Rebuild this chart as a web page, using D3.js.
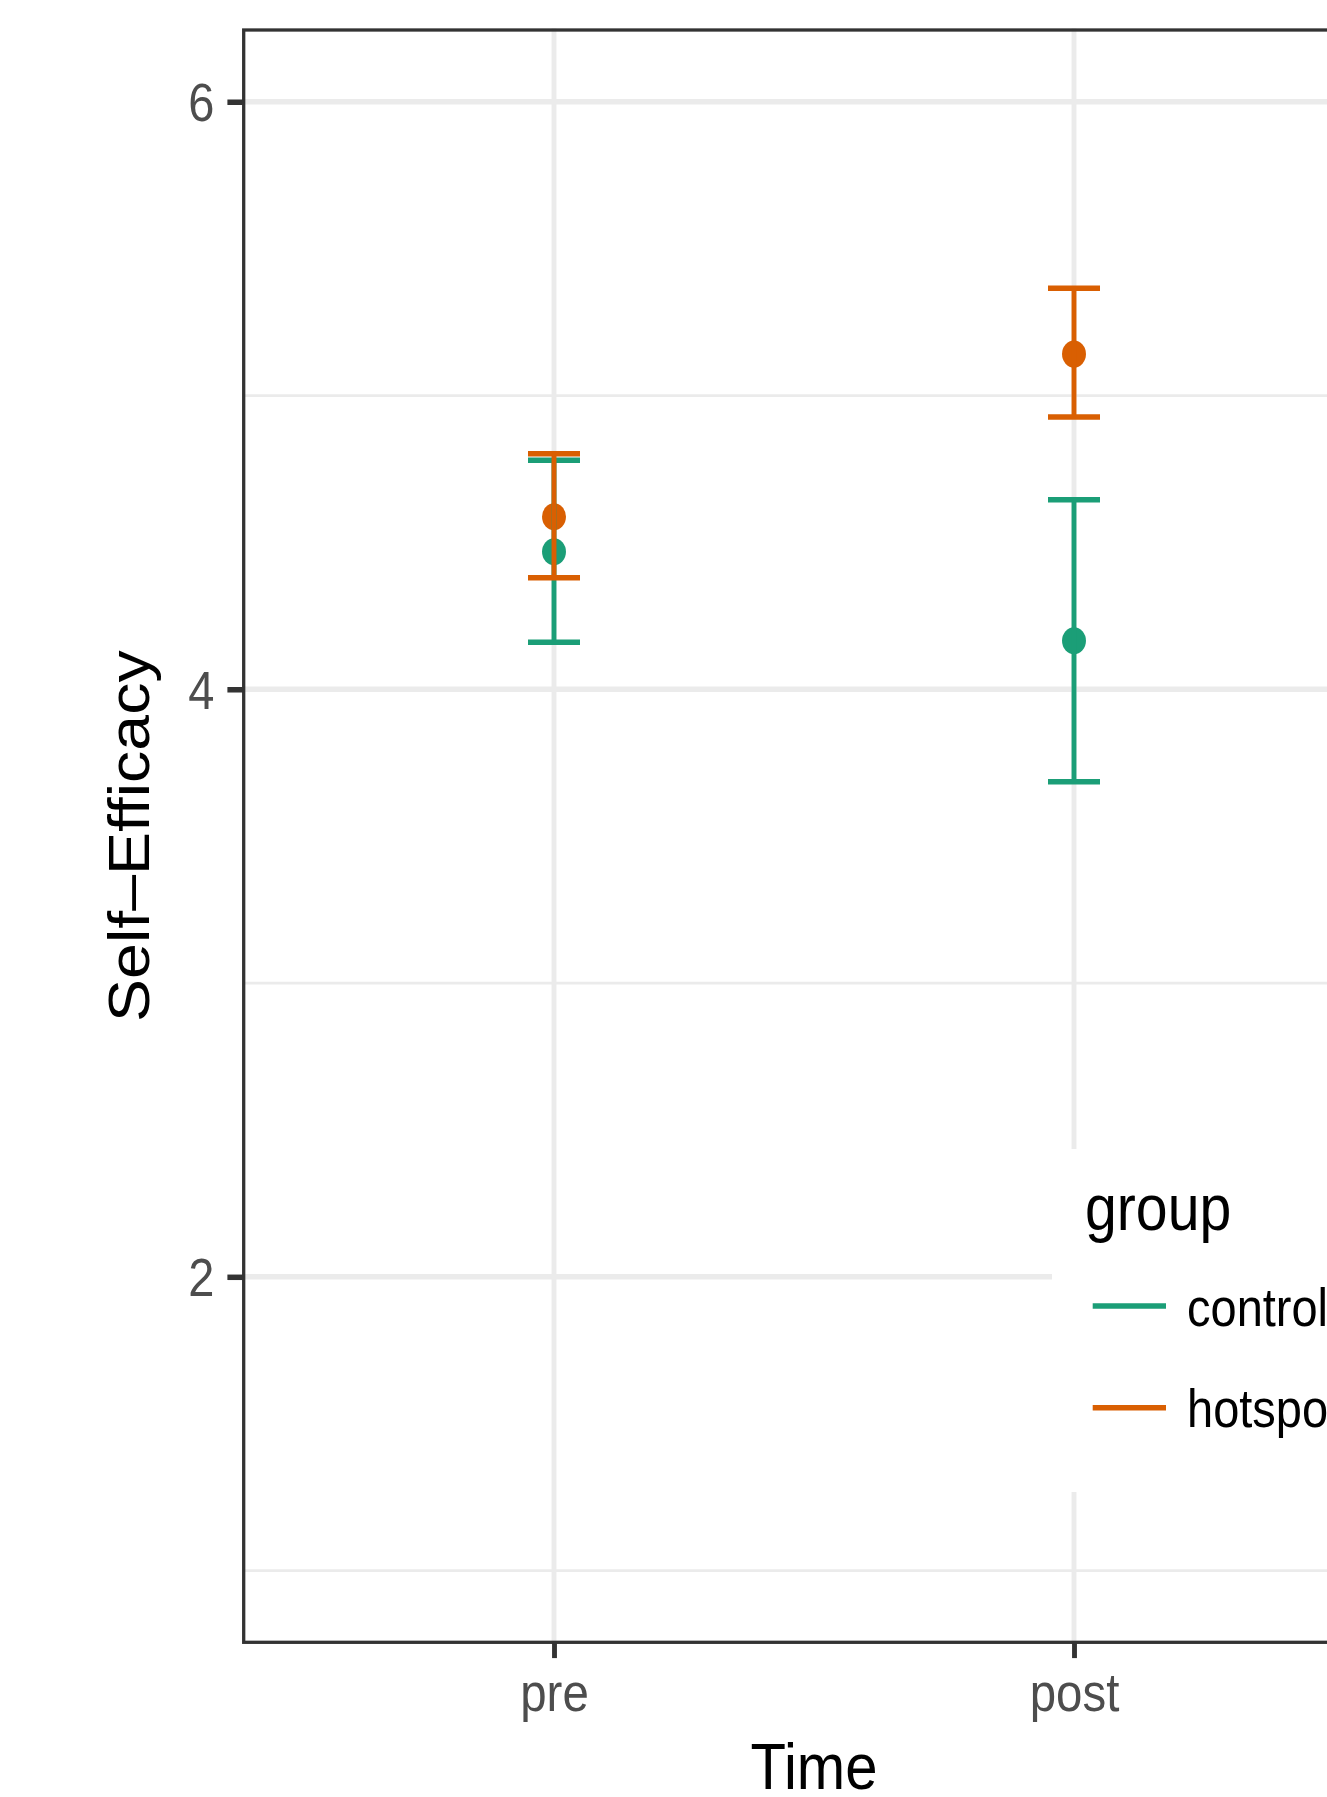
<!DOCTYPE html>
<html>
<head>
<meta charset="utf-8">
<script src="https://cdn.jsdelivr.net/npm/d3@7"></script>
<style>
  body { margin: 0; background: #fff; overflow: hidden; }
  text { font-family: "Liberation Sans", Arial, Helvetica, sans-serif; }
</style>
</head>
<body>
<div id="wrapper"></div>
<script>
// data
const times = ["pre", "post"];
const groups = ["control", "hotspot"];
const groupColors = ["#1B9E77", "#D95F02"];
const controlMean = [4.468, 4.165];
const controlLow = [4.16, 3.685];
const controlHigh = [4.78, 4.645];
const hotspotMean = [4.587, 5.141];
const hotspotLow = [4.38, 4.927];
const hotspotHigh = [4.802, 5.365];
const yMajorTicks = [2, 4, 6];
const yMinorTicks = [1, 3, 5];
const yLimits = [1, 6];

function drawChart() {
  // the source picture is squeezed sideways, so glyphs and dots get squeezed too
  const squeeze = 0.887;

  // step 1: rows for the marks
  const rows = [];
  groups.forEach((g, gi) => {
    const mean = gi === 0 ? controlMean : hotspotMean;
    const low = gi === 0 ? controlLow : hotspotLow;
    const high = gi === 0 ? controlHigh : hotspotHigh;
    times.forEach((t, ti) => {
      rows.push({ group: g, time: t, mean: mean[ti], low: low[ti], high: high[ti] });
    });
  });

  // step 2: dimensions
  let dimensions = {
    width: 1327,
    height: 1797,
    panel: { left: 242, top: 28.3, right: 1386, bottom: 1644 },
  };

  // step 3: canvas
  const wrapper = d3.select("#wrapper")
    .append("svg")
    .attr("width", dimensions.width)
    .attr("height", dimensions.height)
    .style("display", "block");
  wrapper.append("rect")
    .attr("width", dimensions.width)
    .attr("height", dimensions.height)
    .attr("fill", "#fff");

  // step 4: scales
  const pad = (yLimits[1] - yLimits[0]) * 0.05;
  const yScale = d3.scaleLinear()
    .domain([yLimits[0] - pad, yLimits[1] + pad])
    .range([dimensions.panel.bottom, dimensions.panel.top]);
  const xScale = d3.scalePoint()
    .domain(times)
    .range([dimensions.panel.left, dimensions.panel.right])
    .padding(0.6);
  const colorScale = d3.scaleOrdinal()
    .domain(groups)
    .range(groupColors);

  // grid
  const grid = wrapper.append("g");
  grid.selectAll(".minor")
    .data(yMinorTicks)
    .join("line")
    .attr("x1", dimensions.panel.left)
    .attr("x2", dimensions.panel.right)
    .attr("y1", d => yScale(d))
    .attr("y2", d => yScale(d))
    .attr("stroke", "#EBEBEB")
    .attr("stroke-width", 2.75);
  grid.selectAll(".major")
    .data(yMajorTicks)
    .join("line")
    .attr("x1", dimensions.panel.left)
    .attr("x2", dimensions.panel.right)
    .attr("y1", d => yScale(d))
    .attr("y2", d => yScale(d))
    .attr("stroke", "#EBEBEB")
    .attr("stroke-width", 5.5);
  grid.selectAll(".vmajor")
    .data(times)
    .join("line")
    .attr("x1", d => xScale(d))
    .attr("x2", d => xScale(d))
    .attr("y1", dimensions.panel.top)
    .attr("y2", dimensions.panel.bottom)
    .attr("stroke", "#EBEBEB")
    .attr("stroke-width", 5.5 * squeeze);

  // step 5: data marks, points first then error bars
  const marks = wrapper.append("g");
  marks.selectAll("ellipse")
    .data(rows)
    .join("ellipse")
    .attr("cx", d => xScale(d.time))
    .attr("cy", d => yScale(d.mean))
    .attr("rx", 13.5 * squeeze)
    .attr("ry", 13.5)
    .attr("fill", d => colorScale(d.group));

  const capHalf = xScale.step() * 0.05;
  const bars = marks.selectAll(".bar")
    .data(rows)
    .join("g")
    .attr("stroke", d => colorScale(d.group));
  bars.append("line")
    .attr("x1", d => xScale(d.time))
    .attr("x2", d => xScale(d.time))
    .attr("y1", d => yScale(d.low))
    .attr("y2", d => yScale(d.high))
    .attr("stroke-width", 5.5 * squeeze);
  bars.append("line")
    .attr("x1", d => xScale(d.time) - capHalf)
    .attr("x2", d => xScale(d.time) + capHalf)
    .attr("y1", d => yScale(d.high))
    .attr("y2", d => yScale(d.high))
    .attr("stroke-width", 5.5);
  bars.append("line")
    .attr("x1", d => xScale(d.time) - capHalf)
    .attr("x2", d => xScale(d.time) + capHalf)
    .attr("y1", d => yScale(d.low))
    .attr("y2", d => yScale(d.low))
    .attr("stroke-width", 5.5);

  // legend sits inside the panel
  const legend = wrapper.append("g");
  legend.append("rect")
    .attr("x", 1052)
    .attr("y", 1149)
    .attr("width", 420)
    .attr("height", 343)
    .attr("fill", "#fff");
  legend.append("text")
    .attr("transform", `translate(1085,1230) scale(${squeeze},1)`)
    .attr("font-size", 64.5)
    .attr("fill", "#000")
    .text("group");
  const keys = legend.selectAll(".key")
    .data(groups)
    .join("g")
    .attr("transform", (d, i) => `translate(0,${1306 + i * 101.7})`);
  keys.append("line")
    .attr("x1", 1092.7)
    .attr("x2", 1166)
    .attr("stroke", d => colorScale(d))
    .attr("stroke-width", 5.5);
  keys.append("text")
    .attr("transform", `translate(1187,19.5) scale(${squeeze},1)`)
    .attr("font-size", 53)
    .attr("fill", "#000")
    .text(d => d);

  // panel border
  wrapper.append("rect")
    .attr("x", 243.7)
    .attr("y", 30)
    .attr("width", 1400)
    .attr("height", 1612.3)
    .attr("fill", "none")
    .attr("stroke", "#333333")
    .attr("stroke-width", 3.3);

  // step 6: axes
  const yAxisGenerator = d3.axisLeft(yScale)
    .tickValues(yMajorTicks)
    .tickSize(15.6)
    .tickFormat(d3.format("d"));
  const yAxis = wrapper.append("g")
    .attr("transform", `translate(${dimensions.panel.left + 1},0)`)
    .call(yAxisGenerator);
  yAxis.select(".domain").remove();
  yAxis.selectAll(".tick line")
    .attr("stroke", "#333333")
    .attr("stroke-width", 5.5);
  yAxis.selectAll(".tick text")
    .attr("x", -28.5 / squeeze)
    .attr("dy", "0.36em")
    .attr("transform", `scale(${squeeze},1)`)
    .attr("font-size", 53)
    .attr("fill", "#4D4D4D")
    .attr("font-family", null);

  const xAxisGenerator = d3.axisBottom(xScale)
    .tickSize(15.6);
  const xAxis = wrapper.append("g")
    .attr("transform", `translate(0,${dimensions.panel.bottom - 1.5})`)
    .call(xAxisGenerator);
  xAxis.select(".domain").remove();
  xAxis.selectAll(".tick line")
    .attr("stroke", "#333333")
    .attr("stroke-width", 5.5 * squeeze);
  xAxis.selectAll(".tick text")
    .attr("y", 69)
    .attr("dy", 0)
    .attr("transform", `scale(${squeeze},1)`)
    .attr("font-size", 53.5)
    .attr("fill", "#4D4D4D")
    .attr("font-family", null);

  const xAxisLabel = wrapper.append("text")
    .attr("transform", `translate(${(dimensions.panel.left + dimensions.panel.right) / 2},1789) scale(${squeeze},1)`)
    .attr("text-anchor", "middle")
    .attr("font-size", 65.5)
    .attr("fill", "#000")
    .text("Time");
  const yAxisLabel = wrapper.append("text")
    .attr("transform", `translate(149,${(dimensions.panel.top + dimensions.panel.bottom) / 2}) rotate(-90) scale(1,${squeeze})`)
    .attr("text-anchor", "middle")
    .attr("font-size", 64.5)
    .attr("fill", "#000")
    .text("Self–Efficacy");
}
drawChart();
</script>
</body>
</html>
